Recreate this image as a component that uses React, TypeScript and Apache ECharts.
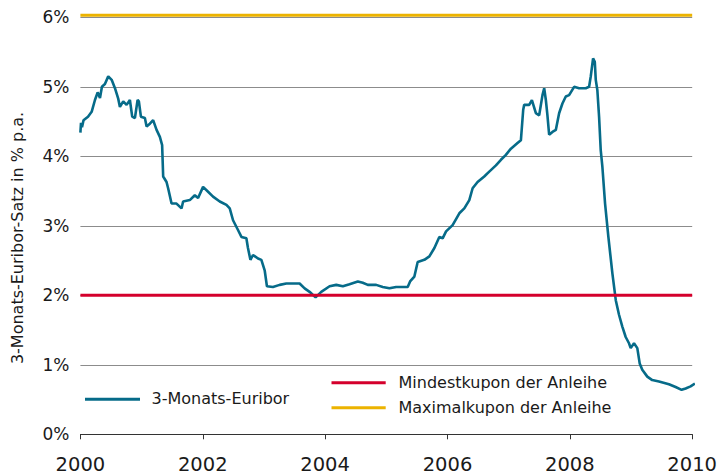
import React, { useEffect, useRef } from "react";
import * as echarts from "echarts";

// Decimal years (2000 = start of 2000)
const euriborYears = [
  2000.0, 2000.01, 2000.026, 2000.051, 2000.124, 2000.184, 2000.238, 2000.282, 2000.32, 2000.352,
  2000.401, 2000.455, 2000.511, 2000.565, 2000.618, 2000.646, 2000.7, 2000.755, 2000.809, 2000.847,
  2000.891, 2000.935, 2000.956, 2000.989, 2001.054, 2001.082, 2001.136, 2001.189, 2001.245, 2001.299,
  2001.336, 2001.353, 2001.408, 2001.434, 2001.49, 2001.571, 2001.653, 2001.679, 2001.788, 2001.87,
  2001.924, 2002.005, 2002.087, 2002.168, 2002.278, 2002.387, 2002.441, 2002.495, 2002.576, 2002.632,
  2002.713, 2002.739, 2002.779, 2002.821, 2002.903, 2002.958, 2003.012, 2003.049, 2003.147, 2003.257,
  2003.366, 2003.474, 2003.583, 2003.665, 2003.746, 2003.844, 2003.937, 2004.073, 2004.182, 2004.29,
  2004.399, 2004.535, 2004.616, 2004.697, 2004.835, 2004.942, 2005.051, 2005.161, 2005.35, 2005.389,
  2005.459, 2005.513, 2005.622, 2005.704, 2005.786, 2005.867, 2005.921, 2005.977, 2006.084, 2006.194,
  2006.275, 2006.357, 2006.411, 2006.492, 2006.601, 2006.683, 2006.792, 2006.874, 2006.955, 2007.037,
  2007.145, 2007.2, 2007.238, 2007.254, 2007.336, 2007.38, 2007.445, 2007.499, 2007.553, 2007.581,
  2007.608, 2007.634, 2007.662, 2007.716, 2007.771, 2007.825, 2007.879, 2007.934, 2007.988, 2008.07,
  2008.151, 2008.261, 2008.315, 2008.342, 2008.38, 2008.408, 2008.424, 2008.45, 2008.478, 2008.505,
  2008.532, 2008.576, 2008.63, 2008.695, 2008.751, 2008.804, 2008.858, 2008.913, 2008.967, 2008.995,
  2009.049, 2009.103, 2009.142, 2009.184, 2009.266, 2009.347, 2009.457, 2009.62, 2009.729, 2009.827,
  2009.893, 2009.974, 2010.044,
];

const euriborRates = [
  4.34, 4.48, 4.42, 4.52, 4.57, 4.64, 4.81, 4.92, 4.84, 5.0,
  5.04, 5.15, 5.1, 4.98, 4.83, 4.71, 4.79, 4.74, 4.81, 4.57,
  4.55, 4.81, 4.79, 4.57, 4.55, 4.43, 4.47, 4.52, 4.38, 4.28,
  4.16, 3.71, 3.63, 3.54, 3.32, 3.32, 3.25, 3.35, 3.37, 3.44,
  3.4, 3.56, 3.49, 3.42, 3.35, 3.3, 3.25, 3.08, 2.94, 2.84,
  2.82, 2.68, 2.51, 2.58, 2.53, 2.51, 2.36, 2.13, 2.12, 2.15,
  2.17, 2.17, 2.17, 2.1, 2.05, 1.97, 2.05, 2.13, 2.15, 2.13,
  2.16, 2.2, 2.18, 2.15, 2.15, 2.12, 2.1, 2.12, 2.12, 2.2,
  2.27, 2.48, 2.51, 2.56, 2.68, 2.84, 2.82, 2.92, 3.01, 3.18,
  3.25, 3.37, 3.54, 3.63, 3.71, 3.78, 3.87, 3.95, 4.02, 4.11,
  4.19, 4.23, 4.67, 4.74, 4.74, 4.81, 4.62, 4.59, 4.88, 4.98,
  4.81, 4.59, 4.31, 4.35, 4.38, 4.62, 4.76, 4.86, 4.88, 5.0,
  4.98, 4.98, 5.0, 5.15, 5.41, 5.36, 5.1, 4.95, 4.57, 4.09,
  3.85, 3.32, 2.84, 2.32, 1.93, 1.72, 1.55, 1.4, 1.31, 1.24,
  1.31, 1.24, 1.02, 0.93, 0.83, 0.78, 0.76, 0.72, 0.68, 0.64,
  0.66, 0.69, 0.73,
];

const minCouponYears = [2000, 2010];
const minCouponRates = [2.0, 2.0];
const maxCouponYears = [2000, 2010];
const maxCouponRates = [6.03, 6.03];

const yTicks = [0, 1, 2, 3, 4, 5, 6];
const xTickYears = [2000, 2002, 2004, 2006, 2008, 2010];

const seriesNames = ["3-Monats-Euribor", "Mindestkupon der Anleihe", "Maximalkupon der Anleihe"];
const axisTitle = "3-Monats-Euribor-Satz in % p.a.";

const TEAL = "#066b89";
const RED = "#d4002c";
const GOLD = "#ecb300";
const FONT = "DejaVu Sans";

export default function App() {
  const ref = useRef<HTMLDivElement>(null);

  useEffect(() => {
    if (!ref.current) return;
    const chart = echarts.init(ref.current, undefined, { renderer: "svg" });
    const zip = (xs: number[], ys: number[]) => xs.map((x, i) => [x, ys[i]]);

    chart.setOption({
      animation: false,
      backgroundColor: "#ffffff",
      grid: { left: 80.4, right: 26.7, top: 17.3, bottom: 40.7, containLabel: false },
      xAxis: {
        type: "value",
        min: xTickYears[0],
        max: xTickYears[xTickYears.length - 1],
        interval: 2,
        axisLine: { show: true, lineStyle: { color: "#333333", width: 1 } },
        axisTick: { show: true, length: 5, lineStyle: { color: "#333333" } },
        splitLine: { show: false },
        axisLabel: {
          margin: 20,
          fontFamily: FONT,
          fontSize: 19.5,
          color: "#1a1a1a",
          formatter: (v: number) => String(v),
        },
      },
      yAxis: {
        type: "value",
        min: yTicks[0],
        max: yTicks[yTicks.length - 1],
        interval: 1,
        axisLine: { show: false },
        axisTick: { show: false },
        splitLine: { show: true, lineStyle: { color: "#8c8c8c", width: 1.2 } },
        axisLabel: {
          margin: 11,
          fontFamily: FONT,
          fontSize: 17,
          color: "#1a1a1a",
          formatter: "{value}%",
        },
      },
      series: [
        {
          name: seriesNames[0],
          type: "line",
          data: zip(euriborYears, euriborRates),
          showSymbol: false,
          symbol: "none",
          clip: false,
          silent: true,
          lineStyle: { color: TEAL, width: 2.6 },
          z: 2,
        },
        {
          name: seriesNames[1],
          type: "line",
          data: zip(minCouponYears, minCouponRates),
          symbol: "none",
          silent: true,
          lineStyle: { color: RED, width: 3 },
          z: 3,
        },
        {
          name: seriesNames[2],
          type: "line",
          data: zip(maxCouponYears, maxCouponRates),
          symbol: "none",
          clip: false,
          silent: true,
          lineStyle: { color: GOLD, width: 3 },
          z: 3,
        },
      ],
      graphic: [
        {
          type: "text",
          x: 17,
          y: 238,
          rotation: Math.PI / 2,
          style: {
            text: axisTitle,
            fontFamily: FONT,
            fontSize: 16,
            fill: "#1a1a1a",
            align: "center",
            verticalAlign: "middle",
          },
        },
        {
          type: "line",
          shape: { x1: 85, y1: 399.3, x2: 140, y2: 399.3 },
          style: { stroke: TEAL, lineWidth: 3 },
        },
        {
          type: "text",
          x: 151.5,
          y: 398.5,
          style: {
            text: seriesNames[0],
            fontFamily: FONT,
            fontSize: 16,
            fill: "#1a1a1a",
            align: "left",
            verticalAlign: "middle",
          },
        },
        {
          type: "line",
          shape: { x1: 331.5, y1: 382.7, x2: 385.7, y2: 382.7 },
          style: { stroke: RED, lineWidth: 3 },
        },
        {
          type: "text",
          x: 398.5,
          y: 382.5,
          style: {
            text: seriesNames[1],
            fontFamily: FONT,
            fontSize: 16,
            fill: "#1a1a1a",
            align: "left",
            verticalAlign: "middle",
          },
        },
        {
          type: "line",
          shape: { x1: 331.5, y1: 407.7, x2: 385.7, y2: 407.7 },
          style: { stroke: GOLD, lineWidth: 3 },
        },
        {
          type: "text",
          x: 398.5,
          y: 407.5,
          style: {
            text: seriesNames[2],
            fontFamily: FONT,
            fontSize: 16,
            fill: "#1a1a1a",
            align: "left",
            verticalAlign: "middle",
          },
        },
      ],
    });

    return () => chart.dispose();
  }, []);

  return (
    <div
      ref={ref}
      style={{ width: 720, height: 475, position: "fixed", left: 0, top: 0, background: "#fff" }}
    />
  );
}
